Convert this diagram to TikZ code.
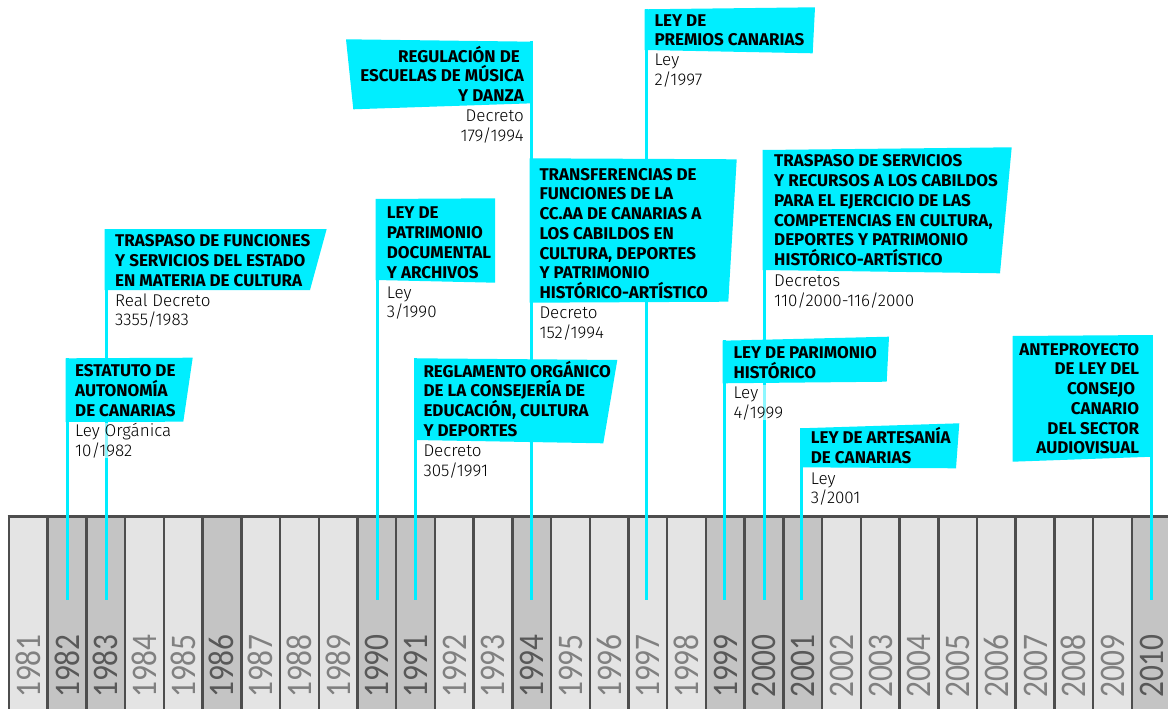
\documentclass[tikz,border=0pt]{standalone}
\usepackage{graphicx}
\usepackage{fontspec}
\setmainfont{Fira Sans}
\newfontfamily\lightfam{Fira Sans Light}
\newfontfamily\yearfam{Carlito}
\definecolor{flagc}{RGB}{0,238,255}
\definecolor{colA}{RGB}{228,228,228}
\definecolor{colB}{RGB}{196,196,196}
\definecolor{sepc}{RGB}{77,77,77}
\definecolor{yrA}{RGB}{128,128,128}
\definecolor{yrB}{RGB}{88,88,88}
\begin{document}
\begin{tikzpicture}[x=1pt,y=-1pt,
  stemline/.style={draw=flagc,line width=3pt},
  flagshape/.style={fill=flagc},
  headl/.style={inner sep=0pt,anchor=north west,align=left,font=\fontsize{17}{19.7}\selectfont\bfseries},
  headr/.style={inner sep=0pt,anchor=north east,align=right,font=\fontsize{17}{19.7}\selectfont\bfseries},
  subl/.style={inner sep=0pt,anchor=north west,align=left,font=\lightfam\fontsize{17}{19.7}\selectfont,fill=white,fill opacity=0.55,text opacity=1},
  subr/.style={inner sep=0pt,anchor=north east,align=right,font=\lightfam\fontsize{17}{19.7}\selectfont,fill=white,fill opacity=0.55,text opacity=1},
  yearlab/.style={rotate=90,anchor=base west,inner sep=0pt,font=\yearfam\fontsize{36}{36}\selectfont},
  sepline/.style={draw=sepc,line width=2.5pt}
]
\useasboundingbox (0,0) rectangle (1168,709);
\fill[white] (0,0) rectangle (1168,709);

% timeline columns
\foreach \yr/\cf/\tc [evaluate=\yr as \xl using {9+38.72*(\yr-1981)}] in
 {1981/colA/yrA,1982/colB/yrB,1983/colB/yrB,1984/colA/yrA,1985/colA/yrA,
  1986/colB/yrB,1987/colA/yrA,1988/colA/yrA,1989/colA/yrA,1990/colB/yrB,
  1991/colB/yrB,1992/colA/yrA,1993/colA/yrA,1994/colB/yrB,1995/colA/yrA,
  1996/colA/yrA,1997/colA/yrA,1998/colA/yrA,1999/colB/yrB,2000/colB/yrB,
  2001/colB/yrB,2002/colA/yrA,2003/colA/yrA,2004/colA/yrA,2005/colA/yrA,
  2006/colA/yrA,2007/colA/yrA,2008/colA/yrA,2009/colA/yrA,2010/colB/yrB}
{
  \fill[\cf] (\xl,517) rectangle ++(38.72,192);
  \node[yearlab,text=\tc] (y\yr) at (\xl+31.3,698) {\scalebox{0.87}[1]{\yr}};
}
\foreach \i in {0,...,30} \draw[sepline] ({9+38.72*\i},516) -- ({9+38.72*\i},709);
\draw[sepc,line width=3pt] (7.7,516) -- (1168,516);

% stem coordinates
\coordinate (t82) at (67,358);    \coordinate (b82) at (67,600);
\coordinate (t83) at (106,229);   \coordinate (b83) at (106,600);
\coordinate (t90) at (377,199);   \coordinate (b90) at (377,600);
\coordinate (t91) at (415.5,358); \coordinate (b91) at (415.5,600);
\coordinate (t94) at (531,41);    \coordinate (b94) at (531,600);
\coordinate (t97) at (646,9);     \coordinate (b97) at (646,600);
\coordinate (t99) at (724,340);   \coordinate (b99) at (724,600);
\coordinate (t00) at (764,150);   \coordinate (b00) at (764,600);
\coordinate (t01) at (801.5,428); \coordinate (b01) at (801.5,600);
\coordinate (t10) at (1151.3,335);\coordinate (b10) at (1151.3,600);
\foreach \s in {82,83,90,91,94,97,99,00,01,10} \draw[stemline] (t\s) -- (b\s);

% flags
\fill[flagshape] (65.5,358.3) -- (192.7,357.7) -- (183.3,421.7) -- (65.5,422) -- cycle;
\fill[flagshape] (104.5,229) -- (326.7,229) -- (310,290) -- (104.5,290) -- cycle;
\fill[flagshape] (375.5,199) -- (495,198.3) -- (495,282.7) -- (375.5,280) -- cycle;
\fill[flagshape] (414,358.3) -- (617.3,360) -- (603.3,443.3) -- (414,440) -- cycle;
\fill[flagshape] (346,39.3) -- (532.5,41.7) -- (532.5,103.3) -- (353.3,109.3) -- cycle;
\fill[flagshape] (529.5,158.3) -- (736.7,159.3) -- (728.3,301.7) -- (529.5,302.7) -- cycle;
\fill[flagshape] (644.5,9.3) -- (815,7.3) -- (812.7,53.3) -- (644.5,50) -- cycle;
\fill[flagshape] (762.5,150) -- (1011.7,147.3) -- (1000,273.3) -- (762.5,270) -- cycle;
\fill[flagshape] (722.5,340.7) -- (889,336.7) -- (886.7,381.7) -- (722.5,383.3) -- cycle;
\fill[flagshape] (800,428.3) -- (959.3,423.3) -- (956,468.3) -- (800,467.3) -- cycle;
\fill[flagshape] (1012.7,336) -- (1152.8,335) -- (1152.8,456.7) -- (1012.7,461.7) -- cycle;

% headings
\node[headl] (h82) at (75,360.7) {\rule{0pt}{16pt}ESTATUTO DE\\AUTONOMÍA\\DE CANARIAS};
\node[headl] (h83) at (115,230.7) {\rule{0pt}{16pt}TRASPASO DE FUNCIONES\\Y SERVICIOS DEL ESTADO\\EN MATERIA DE CULTURA};
\node[headl] (h90) at (386.7,202.7) {\rule{0pt}{16pt}LEY DE\\PATRIMONIO\\DOCUMENTAL\\Y ARCHIVOS};
\node[headl] (h91) at (423.3,360.7) {\rule{0pt}{16pt}REGLAMENTO ORGÁNICO\\DE LA CONSEJERÍA DE\\EDUCACIÓN, CULTURA\\Y DEPORTES};
\node[headr] (h94a) at (524,45.7) {\rule{0pt}{16pt}REGULACIÓN DE\kern4pt\\ESCUELAS DE MÚSICA\\Y DANZA};
\node[headl] (h94b) at (539.3,164) {\rule{0pt}{16pt}TRANSFERENCIAS DE\\FUNCIONES DE LA\\CC.AA DE CANARIAS A\\LOS CABILDOS EN\\CULTURA, DEPORTES\\Y PATRIMONIO\\HISTÓRICO-ARTÍSTICO};
\node[headl] (h97) at (654.3,10) {\rule{0pt}{16pt}LEY DE\\PREMIOS CANARIAS};
\node[headl] (h00) at (774,150.7) {\rule{0pt}{16pt}TRASPASO DE SERVICIOS\\Y RECURSOS A LOS CABILDOS\\PARA EL EJERCICIO DE LAS\\COMPETENCIAS EN CULTURA,\\DEPORTES Y PATRIMONIO\\HISTÓRICO-ARTÍSTICO};
\node[headl] (h99) at (733.3,342.3) {\rule{0pt}{16pt}LEY DE PARIMONIO\\HISTÓRICO};
\node[headl] (h01) at (810.7,427.3) {\rule{0pt}{16pt}LEY DE ARTESANÍA\\DE CANARIAS};
\node[headr] (h10) at (1139.3,339) {\rule{0pt}{16pt}ANTEPROYECTO\\DE LEY DEL\\CONSEJO\kern4pt\\CANARIO\\DEL SECTOR\\AUDIOVISUAL};

% legal references
\node[subl] (r82) at (75,422.7) {\rule{0pt}{14pt}Ley Orgánica\\10/1982};
\node[subl] (r83) at (115,292) {\rule{0pt}{14pt}Real Decreto\\3355/1983};
\node[subl] (r90) at (386.7,284) {\rule{0pt}{14pt}Ley\\3/1990};
\node[subl] (r91) at (423.3,442.7) {\rule{0pt}{14pt}Decreto\\305/1991};
\node[subr] (r94a) at (524,107.7) {\rule{0pt}{14pt}Decreto\\179/1994};
\node[subl] (r94b) at (539.3,304.3) {\rule{0pt}{14pt}Decreto\\152/1994};
\node[subl] (r97) at (654.3,51.7) {\rule{0pt}{14pt}Ley\\2/1997};
\node[subl] (r00) at (774,272.7) {\rule{0pt}{14pt}Decretos\\110/2000-116/2000};
\node[subl] (r99) at (733.3,384.3) {\rule{0pt}{14pt}Ley\\4/1999};
\node[subl] (r01) at (810.7,470) {\rule{0pt}{14pt}Ley\\3/2001};
\end{tikzpicture}
\end{document}
